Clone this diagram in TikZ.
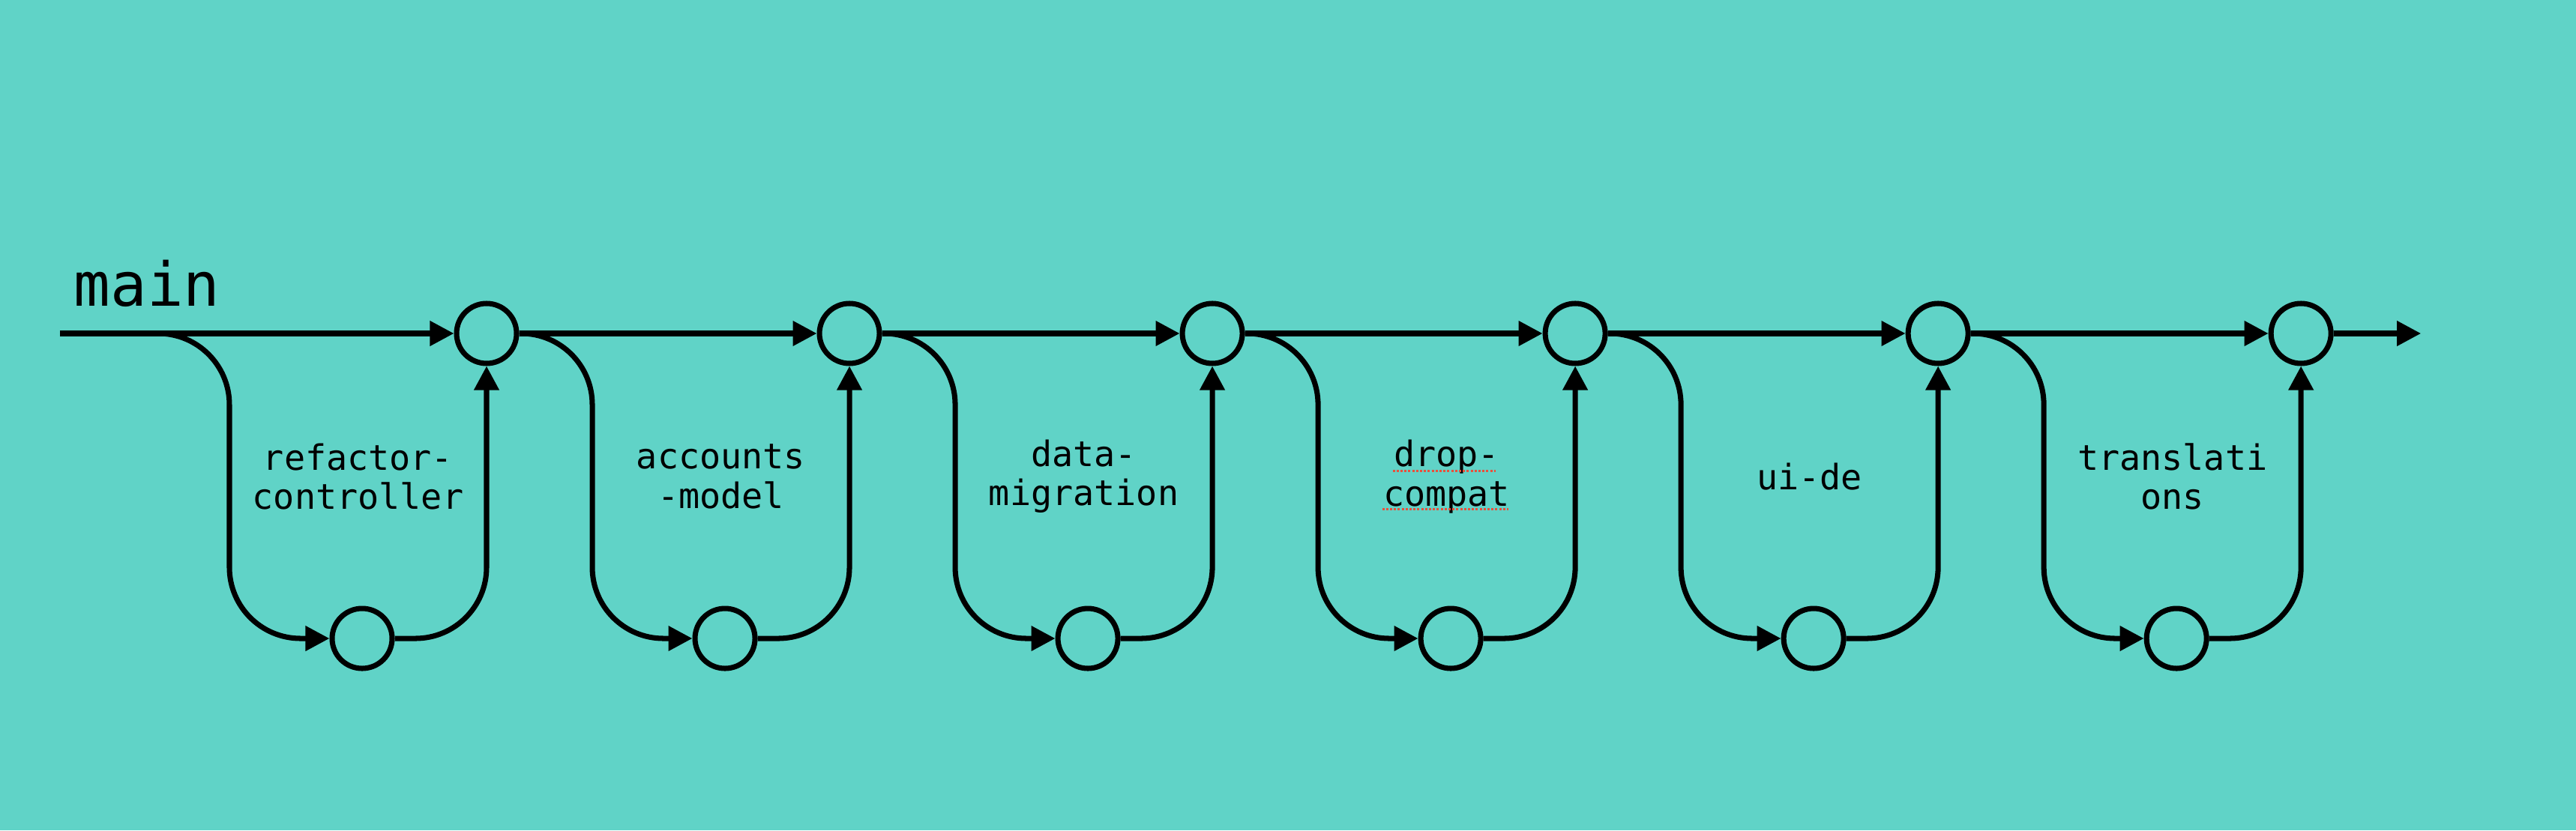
\documentclass[tikz,border=0pt]{standalone}
\usepackage{fontspec}
\setmonofont{DejaVu Sans Mono}
\usepackage{tikz}
\usetikzlibrary{arrows.meta,positioning,calc}

\definecolor{bgteal}{RGB}{96,211,199}
\definecolor{spellred}{RGB}{232,80,60}

\begin{document}
\begin{tikzpicture}[
    node distance=3.97cm,
    commit/.style={circle, draw, line width=2pt, minimum size=0.8cm, inner sep=0pt},
    flow/.style={-{Triangle[length=0.32cm, width=0.32cm]}, line width=2pt},
    branch/.style={flow, rounded corners=0.95cm},
    branchname/.style={align=center, font=\ttfamily\fontsize{13.3}{14.9}\selectfont},
    spell/.style={spellred, line width=0.03cm, dash pattern=on 0.03cm off 0.022cm}
]
    \fill[bgteal] (0,0) rectangle (34.36,11.08);

    % main line
    \coordinate (start) at (0.80,6.63);
    \node[anchor=base west, inner sep=0pt, font=\ttfamily\fontsize{23}{23}\selectfont] (mainname) at (0.98,6.99) {main};
    \node[commit] (merge1) at (6.49,6.63) {};
    \node[commit, right=of merge1] (merge2) {};
    \node[commit, right=of merge2] (merge3) {};
    \node[commit, right=of merge3] (merge4) {};
    \node[commit, right=of merge4] (merge5) {};
    \node[commit, right=of merge5] (merge6) {};
    \coordinate[right=1.165cm of merge6] (end);

    % branch commits
    \node[commit, below=3.20cm of merge1, xshift=-1.66cm] (refactor) {};
    \node[commit, below=3.20cm of merge2, xshift=-1.66cm] (accounts) {};
    \node[commit, below=3.20cm of merge3, xshift=-1.66cm] (migration) {};
    \node[commit, below=3.20cm of merge4, xshift=-1.66cm] (compat) {};
    \node[commit, below=3.20cm of merge5, xshift=-1.66cm] (uide) {};
    \node[commit, below=3.20cm of merge6, xshift=-1.66cm] (transl) {};

    % branch names
    \node[branchname] (refactorname) at ($(merge1)+(-1.715,-1.91)$) {refactor-\\controller};
    \node[branchname] (accountsname) at ($(merge2)+(-1.715,-1.91)$) {accounts\\-model};
    \node[branchname] (migrationname) at ($(merge3)+(-1.715,-1.91)$) {data-\\migration};
    \node[branchname] (compatname) at ($(merge4)+(-1.715,-1.91)$) {drop-\\compat};
    \node[branchname] (uidename) at ($(merge5)+(-1.715,-1.91)$) {ui-de};
    \node[branchname] (translname) at ($(merge6)+(-1.715,-1.91)$) {translati\\ons};
    \draw[spell] ([shift={(-0.72,0.08)}]compatname.center) -- ++(1.37,0);
    \draw[spell] ([shift={(-0.86,-0.43)}]compatname.center) -- ++(1.68,0);

    \draw[flow] (start) -- (merge1);
    \draw[flow] (merge1) -- (merge2);
    \draw[flow] (merge2) -- (merge3);
    \draw[flow] (merge3) -- (merge4);
    \draw[flow] (merge4) -- (merge5);
    \draw[flow] (merge5) -- (merge6);
    \draw[flow] (merge6) -- (end);

    \draw[branch] (start) -| ([xshift=-1.335cm]refactor.west) -- (refactor.west);
    \draw[branch] (refactor) -| (merge1);
    \draw[branch] (merge1) -| ([xshift=-1.335cm]accounts.west) -- (accounts.west);
    \draw[branch] (accounts) -| (merge2);
    \draw[branch] (merge2) -| ([xshift=-1.335cm]migration.west) -- (migration.west);
    \draw[branch] (migration) -| (merge3);
    \draw[branch] (merge3) -| ([xshift=-1.335cm]compat.west) -- (compat.west);
    \draw[branch] (compat) -| (merge4);
    \draw[branch] (merge4) -| ([xshift=-1.335cm]uide.west) -- (uide.west);
    \draw[branch] (uide) -| (merge5);
    \draw[branch] (merge5) -| ([xshift=-1.335cm]transl.west) -- (transl.west);
    \draw[branch] (transl) -| (merge6);
\end{tikzpicture}
\end{document}
